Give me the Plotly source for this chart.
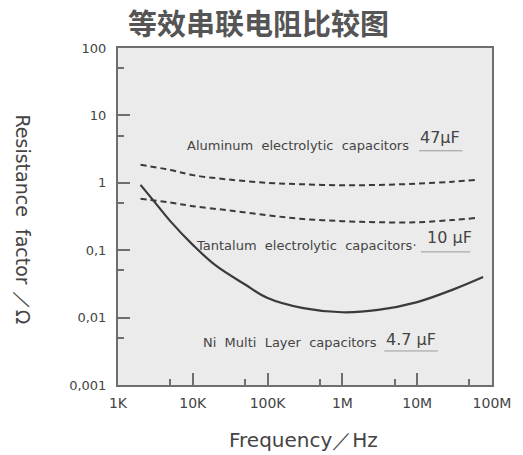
import plotly.graph_objects as go

# ---- data ----
freq_al = [2e3, 5e3, 1e4, 3e4, 1e5, 3e5, 1e6, 3e6, 1e7, 3e7, 6e7]
res_al = [1.85, 1.55, 1.3, 1.12, 1.0, 0.95, 0.92, 0.93, 0.97, 1.04, 1.1]

freq_ta = [2e3, 5e3, 1e4, 3e4, 1e5, 3e5, 1e6, 3e6, 1e7, 3e7, 6e7]
res_ta = [0.58, 0.51, 0.45, 0.39, 0.33, 0.29, 0.27, 0.26, 0.26, 0.28, 0.30]

freq_ni = [2e3, 3e3, 5e3, 1e4, 2e4, 5e4, 1e5, 3e5, 1e6, 3e6, 1e7, 3e7, 7.6e7]
res_ni = [0.93, 0.54, 0.27, 0.12, 0.06, 0.031, 0.0195, 0.0138, 0.012, 0.013, 0.017, 0.026, 0.040]

x_tickvals = [1e3, 1e4, 1e5, 1e6, 1e7, 1e8]
x_ticktext = ["1K", "10K", "100K", "1M", "10M", "100M"]
x_minor = [5e3, 5e4, 5e5, 5e6, 5e7]
y_tickvals = [0.001, 0.01, 0.1, 1, 10, 100]
y_ticktext = ["0,001", "0,01", "0,1", "1", "10", "100"]
y_minor = [0.005, 0.05, 0.5, 5, 50]

title_text = "等效串联电阻比较图"
x_title = "Frequency／Hz"
y_title = "Resistance  factor ／Ω"
labels = ["Aluminum  electrolytic  capacitors", "Tantalum  electrolytic  capacitors·",
          "Ni  Multi  Layer  capacitors"]
caps = ["47μF", "10 μF", "4.7 μF"]

LINE = "#3a3a3a"
TXT = "#444444"

fig = go.Figure()
fig.add_trace(go.Scatter(x=freq_al, y=res_al, mode="lines", line=dict(color=LINE, width=2, dash="6px,4px", shape="spline"), showlegend=False))
fig.add_trace(go.Scatter(x=freq_ta, y=res_ta, mode="lines", line=dict(color=LINE, width=2, dash="6px,4px", shape="spline"), showlegend=False))
fig.add_trace(go.Scatter(x=freq_ni, y=res_ni, mode="lines", line=dict(color=LINE, width=2.2, shape="spline", smoothing=1.0), showlegend=False))

axis_common = dict(showline=True, mirror=True, linecolor="#6e6e6e", linewidth=2,
                   showgrid=False, zeroline=False, ticks="inside", ticklen=12, tickwidth=1.5,
                   tickcolor="#6e6e6e")

fig.update_xaxes(type="log", range=[3, 8], tickvals=x_tickvals, ticktext=x_ticktext,
                 tickfont=dict(family="DejaVu Sans", size=14, color=TXT), ticklabelstandoff=4,
                 minor=dict(tickvals=x_minor, ticks="inside", ticklen=6, tickcolor="#6e6e6e", tickwidth=1.5),
                 **axis_common)
fig.update_yaxes(type="log", range=[-3, 2], tickvals=y_tickvals, ticktext=y_ticktext,
                 tickfont=dict(family="DejaVu Sans", size=13, color=TXT), ticklabelstandoff=7,
                 minor=dict(tickvals=y_minor, ticks="inside", ticklen=6, tickcolor="#6e6e6e", tickwidth=1.5),
                 **axis_common)

ann = []
ann.append(dict(text=title_text, x=0.377, y=1.077, xref="paper", yref="paper", showarrow=False,
                font=dict(family="Noto Sans CJK SC", size=29, color="#555555", weight="bold"),
                xanchor="center", yanchor="middle"))
ann.append(dict(text=x_title, x=0.496, y=-0.163, xref="paper", yref="paper", showarrow=False,
                font=dict(family="DejaVu Sans", size=20, color=TXT), xanchor="center", yanchor="middle"))
ann.append(dict(text=y_title, x=-0.253, y=0.49, xref="paper", yref="paper", showarrow=False, textangle=90,
                font=dict(family="DejaVu Sans", size=19, color=TXT), xanchor="center", yanchor="middle"))

label_pos = [(0.480, 0.712), (0.504, 0.415), (0.459, 0.125)]
cap_pos = [(0.860, 0.735), (0.887, 0.438), (0.784, 0.136)]
underline = [(0.805, 0.921, 0.695), (0.810, 0.942, 0.395), (0.712, 0.855, 0.101)]
for t, (x, y) in zip(labels, label_pos):
    ann.append(dict(text=t, x=x, y=y, xref="paper", yref="paper", showarrow=False,
                    font=dict(family="DejaVu Sans", size=13, color=TXT), xanchor="center", yanchor="middle"))
for t, (x, y) in zip(caps, cap_pos):
    ann.append(dict(text=t, x=x, y=y, xref="paper", yref="paper", showarrow=False,
                    font=dict(family="DejaVu Sans", size=16, color=TXT), xanchor="center", yanchor="middle"))
shapes = [dict(type="line", xref="paper", yref="paper", x0=a, x1=b, y0=c, y1=c,
               line=dict(color="#9a9a9a", width=1)) for a, b, c in underline]

fig.update_layout(width=523, height=455, margin=dict(l=118, r=26, t=48, b=70),
                  paper_bgcolor="white", plot_bgcolor="#ebebeb",
                  annotations=ann, shapes=shapes)

fig.write_html("out.html", config={"displayModeBar": False},
               post_script="document.body.style.margin='0';")
